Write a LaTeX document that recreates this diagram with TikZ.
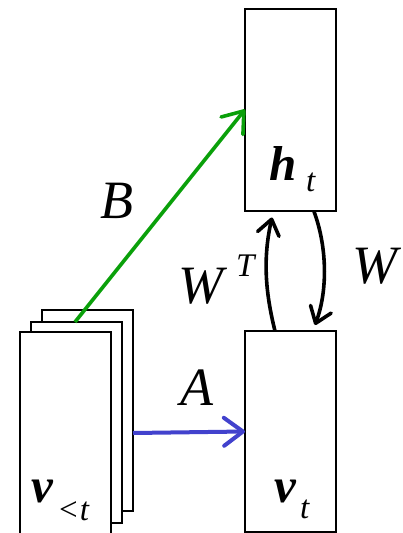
\documentclass[tikz,border=0pt]{standalone}
\usepackage{fontspec}
\setmainfont{Liberation Serif}
\usetikzlibrary{arrows.meta,calc}
\definecolor{garrow}{RGB}{10,160,10}
\definecolor{barrow}{RGB}{66,66,205}
\begin{document}
\begin{tikzpicture}[x=1pt,y=-1pt,
  box/.style={draw,line width=2pt,fill=white,minimum width=91pt,inner sep=0pt,outer sep=0pt,anchor=north west},
  lbl/.style={inner sep=0pt,anchor=base west,font=\fontsize{54}{54}\selectfont\itshape},
  bold/.style={inner sep=0pt,anchor=base west,font=\fontsize{49}{49}\selectfont\bfseries\itshape},
  sub/.style={inner sep=0pt,anchor=base west,font=\fontsize{33}{33}\selectfont},
  isub/.style={sub,font=\fontsize{33}{33}\selectfont\itshape},
  garr/.style={draw=garrow,line width=3.6pt,-{Straight Barb[round,length=19pt,width=28pt]}},
  barr/.style={draw=barrow,line width=4pt,-{Straight Barb[round,length=19pt,width=28pt]}},
  karr/.style={draw=black,line width=3.6pt,-{Straight Barb[round,length=15pt,width=22pt]}}]
\useasboundingbox (0,0) rectangle (402,533);
\node[box,minimum height=202pt] (ht) at (245,8.5) {};
\node[box,minimum height=201pt] (vt) at (245,331) {};
\node[box,minimum height=201pt] (v3) at (42,310) {};
\node[box,minimum height=201pt] (v2) at (31,322) {};
\node[box,minimum height=210pt] (v1) at (20,332) {};
\coordinate (gs) at ($(v2.north west)+(44,0)$);
\draw[garr] (gs) -- (ht.west);
\coordinate (bs) at ($(v3.east)+(0,22.5)$);
\draw[barr] (bs) -- (vt.west);
\coordinate (wts) at ($(vt.north west)+(30,0)$);
\coordinate (wte) at ($(ht.south west)+(27,7)$);
\draw[karr] (wts) .. controls +(-10,-40) and +(-9,40) .. (wte);
\coordinate (ws) at ($(ht.south west)+(69,1)$);
\coordinate (we) at ($(vt.north west)+(70,-6)$);
\draw[karr] (ws) .. controls +(13,35) and +(13,-35) .. (we);
\node[lbl] (B) at (100,218) {B};
\node[lbl] (A) at (180,405) {A};
\node[lbl] (WT) at (178,303) {W};
\node[isub] (T) at (236,276) {T};
\node[lbl] (W) at (352,283) {W};
\node[bold] (h) at (269,180) {h};
\node[isub] (ht1) at (306,191) {t};
\node[bold] (v) at (274,502) {v};
\node[isub] (vt1) at (300,518) {t};
\node[bold] (vp) at (31,502) {v};
\node[sub] (vpt) at (59,520) {<\kern2pt\textit{t}};
\end{tikzpicture}
\end{document}
